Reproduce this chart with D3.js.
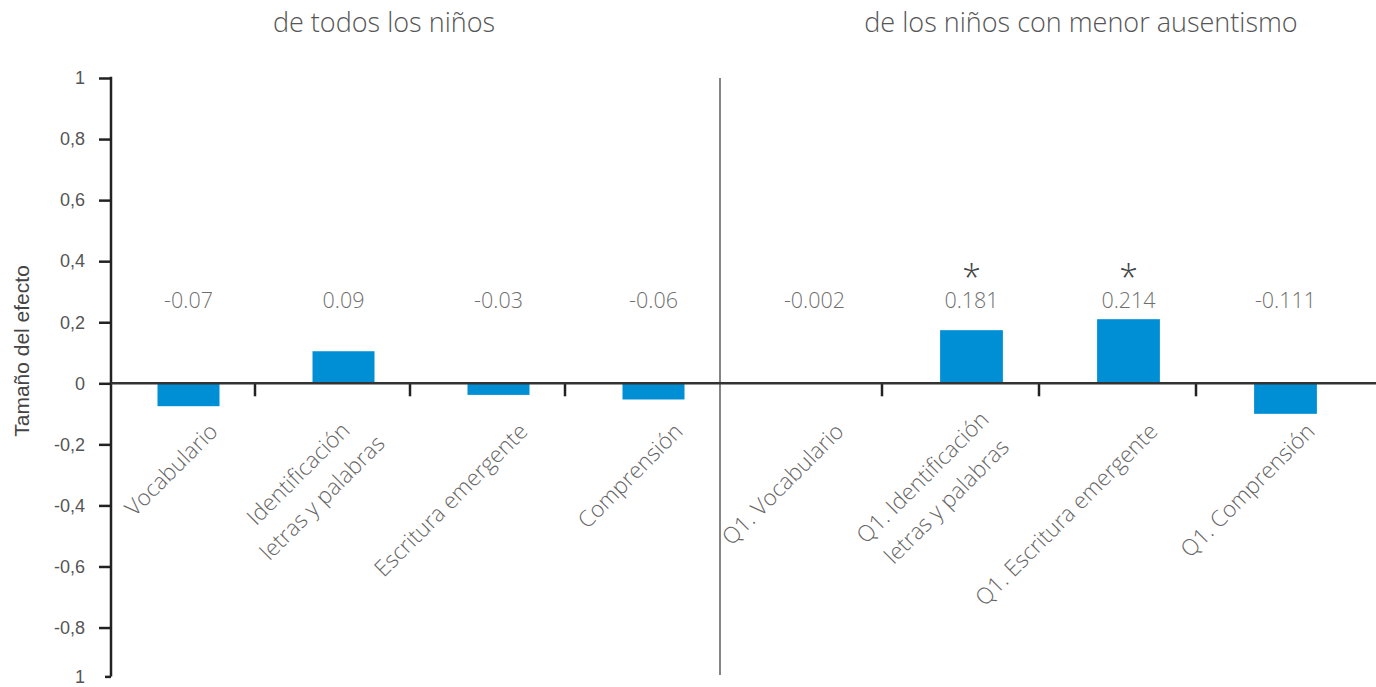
<!DOCTYPE html>
<html>
<head>
<meta charset="utf-8">
<script src="https://cdn.jsdelivr.net/npm/d3@7"></script>
<style>
  body { margin: 0; background: #fff; }
  svg { display: block; }
</style>
</head>
<body>
<svg id="chart" width="1376" height="687"></svg>
<script>
// left panel: all children, right panel: children with lowest absenteeism
const leftCategories = ["Vocabulario", "Identificación\nletras y palabras", "Escritura emergente", "Comprensión"];
const rightCategories = ["Q1. Vocabulario", "Q1. Identificación\nletras y palabras", "Q1. Escritura emergente", "Q1. Comprensión"];
const leftEffects = [-0.075, 0.105, -0.038, -0.053];
const rightEffects = [-0.002, 0.174, 0.21, -0.1];
const leftLabels = ["-0.07", "0.09", "-0.03", "-0.06"];
const rightLabels = ["-0.002", "0.181", "0.214", "-0.111"];
const rightSignificant = [false, true, true, false];
const groupTitles = ["de todos los niños", "de los niños con menor ausentismo"];
const yTickValues = [1, 0.8, 0.6, 0.4, 0.2, 0, -0.2, -0.4, -0.6, -0.8, -0.96];
const yTickLabels = ["1", "0,8", "0,6", "0,4", "0,2", "0", "-0,2", "-0,4", "-0,6", "-0,8", "1"];
const yTitle = "Tamaño del efecto";

const svg = d3.select("#chart");
const width = 1376;
const axisX = 111;

const y = d3.scaleLinear().domain([-1, 1]).range([688.6, 78]);
const y0 = y(0);

// two pasted panels, each with its own band scale
const xLeft = d3.scaleBand().domain(leftCategories).range([axisX, 731]);
const xRight = d3.scaleBand().domain(rightCategories).range([736, 1364]);

const serif = "'Open Sans', 'Noto Sans', sans-serif";
const sans = "'Liberation Sans', Arial, sans-serif";
const barColor = "#008fd5";

// titles
svg.selectAll(".group-title")
  .data(groupTitles)
  .enter()
  .append("text")
  .attr("class", "group-title")
  .attr("x", (d, i) => (i === 0 ? 384 : 1081))
  .attr("y", 32)
  .attr("text-anchor", "middle")
  .style("font-family", serif)
  .style("font-weight", 300)
  .style("font-size", "27px")
  .style("fill", "#555")
  .text((d) => d);

// y axis
const yAxis = d3.axisLeft(y)
  .tickValues(yTickValues)
  .tickFormat((d, i) => yTickLabels[i])
  .tickSize(12)
  .tickSizeOuter(0)
  .tickPadding(14);

const gy = svg.append("g").attr("transform", `translate(${axisX},0)`).call(yAxis);
gy.select(".domain").remove();
gy.selectAll(".tick line").attr("stroke", "#222").attr("stroke-width", 2.5);
gy.selectAll(".tick").filter((d, i) => i === yTickValues.length - 1).select("line").attr("x2", -6);
gy.selectAll(".tick text")
  .style("font-family", sans)
  .style("font-size", "18px")
  .style("fill", "#555");

svg.append("line")
  .attr("x1", axisX).attr("x2", axisX)
  .attr("y1", y(1) - 1.25).attr("y2", y(yTickValues[yTickValues.length - 1]))
  .attr("stroke", "#222").attr("stroke-width", 2.5);

svg.append("text")
  .attr("transform", `translate(29,${351}) rotate(-90)`)
  .attr("text-anchor", "middle")
  .style("font-family", sans)
  .style("font-size", "21px")
  .style("fill", "#444")
  .text(yTitle);

// divider between panels
svg.append("line")
  .attr("x1", xRight.range()[0] - 16).attr("x2", xRight.range()[0] - 16)
  .attr("y1", y(1)).attr("y2", 675)
  .attr("stroke", "#333").attr("stroke-width", 1.2);

function drawPanel(x, cats, vals, labels, stars) {
  const bw = x.bandwidth() * 0.4;

  svg.selectAll(null)
    .data(cats)
    .enter()
    .append("rect")
    .attr("x", (d) => x(d) + x.bandwidth() / 2 - bw / 2)
    .attr("y", (d, i) => Math.min(y(vals[i]), y0))
    .attr("width", bw)
    .attr("height", (d, i) => Math.abs(y(vals[i]) - y0))
    .attr("fill", barColor);

  // category ticks (offset to the left like the source)
  svg.selectAll(null)
    .data(cats.slice(1))
    .enter()
    .append("line")
    .attr("x1", (d) => x(d) - 11).attr("x2", (d) => x(d) - 11)
    .attr("y1", y0).attr("y2", y0 + 13)
    .attr("stroke", "#222").attr("stroke-width", 2.5);

  svg.selectAll(null)
    .data(labels)
    .enter()
    .append("text")
    .attr("x", (d, i) => x(cats[i]) + x.bandwidth() / 2)
    .attr("y", 308)
    .attr("text-anchor", "middle")
    .style("font-family", serif)
    .style("font-weight", 300)
    .style("font-size", "21.5px")
    .style("fill", "#6f6f6f")
    .text((d) => d);

  if (stars) {
    svg.selectAll(null)
      .data(cats.filter((d, i) => stars[i]))
      .enter()
      .append("text")
      .attr("x", (d) => x(d) + x.bandwidth() / 2)
      .attr("y", 290)
      .attr("text-anchor", "middle")
      .style("font-family", serif)
      .style("font-weight", 300)
      .style("font-size", "34px")
      .style("fill", "#444")
      .text("*");
  }

  // rotated category labels
  cats.forEach((c) => {
    const lines = c.split("\n");
    const g = svg.append("g")
      .attr("transform", `translate(${x(c) + x.bandwidth() / 2 + 25},${y0 + 44}) rotate(-45)`);
    const texts = g.selectAll("text")
      .data(lines)
      .enter()
      .append("text")
      .attr("text-anchor", "end")
      .attr("y", (d, i) => (i - (lines.length - 1) / 2) * 34)
      .attr("dy", "0.35em")
      .style("font-family", serif)
      .style("font-weight", 300)
      .style("font-size", "22.5px")
      .style("fill", "#666")
      .text((d) => d);
    const widths = texts.nodes().map((n) => n.getComputedTextLength());
    const maxW = d3.max(widths);
    texts.attr("x", (d, i) => -(maxW - widths[i]) / 2);
  });
}

drawPanel(xLeft, leftCategories, leftEffects, leftLabels, null);
drawPanel(xRight, rightCategories, rightEffects, rightLabels, rightSignificant);

// zero line
svg.append("line")
  .attr("x1", axisX).attr("x2", width)
  .attr("y1", y0).attr("y2", y0)
  .attr("stroke", "#333").attr("stroke-width", 2.5);
</script>
</body>
</html>
